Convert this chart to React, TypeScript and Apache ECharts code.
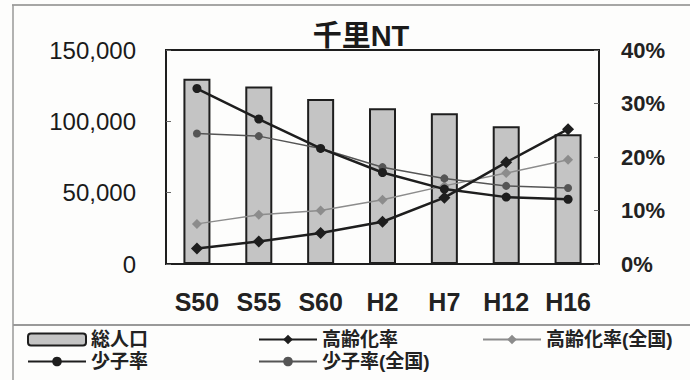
import React, { useEffect, useRef } from "react";
import * as echarts from "echarts";

const categories = ["S50", "S55", "S60", "H2", "H7", "H12", "H16"];
const population = [129800, 124500, 115700, 109100, 105600, 96500, 90900];
const agingRate = [2.9, 4.2, 5.8, 7.9, 12.4, 19.0, 25.2];
const childRate = [32.8, 27.1, 21.6, 17.1, 14.0, 12.5, 12.1];
const agingRateNation = [7.5, 9.2, 10.0, 12.0, 14.6, 17.0, 19.5];
const childRateNation = [24.4, 23.9, 21.6, 18.1, 16.0, 14.6, 14.2];
const leftTicks = [0, 50000, 100000, 150000];
const rightTicks = [0, 10, 20, 30, 40];

const FONT = "'Liberation Sans', 'Noto Sans CJK JP', sans-serif";
const DARK = "#1e1e1e";
const GRAY = "#8c8c8c";

export default function App() {
  const ref = useRef<HTMLDivElement>(null);
  useEffect(() => {
    if (!ref.current) return;
    const chart = echarts.init(ref.current, null, { renderer: "svg" });
    const legendText = { fontFamily: FONT, fontSize: 19, fontWeight: "bold", color: "#222" };
    const mkLegend = (name: string, left: number, top: number) => ({
      orient: "horizontal",
      left,
      top,
      padding: 0,
      itemWidth: 58,
      itemHeight: 12,
      textStyle: legendText,
      data: [name],
    });
    chart.setOption({
      animation: false,
      backgroundColor: "#fdfdfc",
      title: {
        text: "千里NT",
        left: 356,
        textAlign: "center",
        top: 16,
        textStyle: { fontFamily: FONT, fontSize: 29, fontWeight: "bold", color: "#1a1a1a" },
      },
      grid: {
        left: 166,
        right: 91,
        top: 50,
        bottom: 116,
        show: true,
        borderColor: DARK,
        borderWidth: 2,
        backgroundColor: "transparent",
      },
      legend: [
        mkLegend("総人口", 27, 330),
        mkLegend("少子率", 27, 352),
        mkLegend("高齢化率", 258, 330),
        mkLegend("少子率(全国)", 258, 352),
        mkLegend("高齢化率(全国)", 482, 330),
      ],
      xAxis: {
        type: "category",
        data: categories,
        boundaryGap: true,
        axisLine: { lineStyle: { color: DARK, width: 2 } },
        axisTick: { inside: true, length: 5, lineStyle: { color: "#666" } },
        axisLabel: { fontFamily: FONT, fontSize: 25, fontWeight: "bold", color: "#222", margin: 25 },
      },
      yAxis: [
        {
          type: "value",
          min: leftTicks[0],
          max: leftTicks[leftTicks.length - 1],
          interval: leftTicks[1] - leftTicks[0],
          splitLine: { show: false },
          axisLine: { show: true, lineStyle: { color: DARK, width: 2 } },
          axisTick: { show: true, inside: true, length: 5, lineStyle: { color: "#666" } },
          axisLabel: {
            fontFamily: FONT,
            fontSize: 24,
            color: "#1a1a1a",
            margin: 30,
            formatter: (v: number) => v.toLocaleString("en-US"),
          },
        },
        {
          type: "value",
          position: "right",
          min: rightTicks[0],
          max: rightTicks[rightTicks.length - 1],
          interval: rightTicks[1] - rightTicks[0],
          splitLine: { show: false },
          axisLine: { show: true, lineStyle: { color: DARK, width: 2 } },
          axisTick: { show: true, inside: true, length: 5, lineStyle: { color: "#666" } },
          axisLabel: {
            fontFamily: FONT,
            fontSize: 22,
            fontWeight: "bold",
            color: "#222",
            margin: 22,
            formatter: "{value}%",
          },
        },
      ],
      series: [
        {
          name: "総人口",
          type: "bar",
          yAxisIndex: 0,
          data: population,
          barWidth: 27,
          itemStyle: { color: "#c4c4c4", borderColor: DARK, borderWidth: 2 },
        },
        {
          name: "高齢化率(全国)",
          type: "line",
          yAxisIndex: 1,
          data: agingRateNation,
          symbol: "diamond",
          symbolSize: 10,
          lineStyle: { color: GRAY, width: 1.5 },
          itemStyle: { color: GRAY },
        },
        {
          name: "少子率(全国)",
          type: "line",
          yAxisIndex: 1,
          data: childRateNation,
          symbol: "circle",
          symbolSize: 8,
          lineStyle: { color: "#555", width: 1.5 },
          itemStyle: { color: "#555" },
        },
        {
          name: "高齢化率",
          type: "line",
          yAxisIndex: 1,
          data: agingRate,
          symbol: "diamond",
          symbolSize: 12,
          lineStyle: { color: DARK, width: 2.5 },
          itemStyle: { color: DARK },
        },
        {
          name: "少子率",
          type: "line",
          yAxisIndex: 1,
          data: childRate,
          symbol: "circle",
          symbolSize: 9,
          lineStyle: { color: DARK, width: 2.5 },
          itemStyle: { color: DARK },
        },
      ],
      graphic: [
        { type: "line", shape: { x1: 12, y1: 5, x2: 690, y2: 5 }, style: { stroke: "#888", lineWidth: 1.5 } },
        { type: "line", shape: { x1: 13, y1: 5, x2: 13, y2: 380 }, style: { stroke: "#999", lineWidth: 1.5 } },
        { type: "line", shape: { x1: 13, y1: 325, x2: 690, y2: 325 }, style: { stroke: "#999", lineWidth: 2 } },
      ],
    });
    return () => chart.dispose();
  }, []);
  return <div ref={ref} style={{ position: "fixed", left: 0, top: 0, width: 690, height: 380 }} />;
}
